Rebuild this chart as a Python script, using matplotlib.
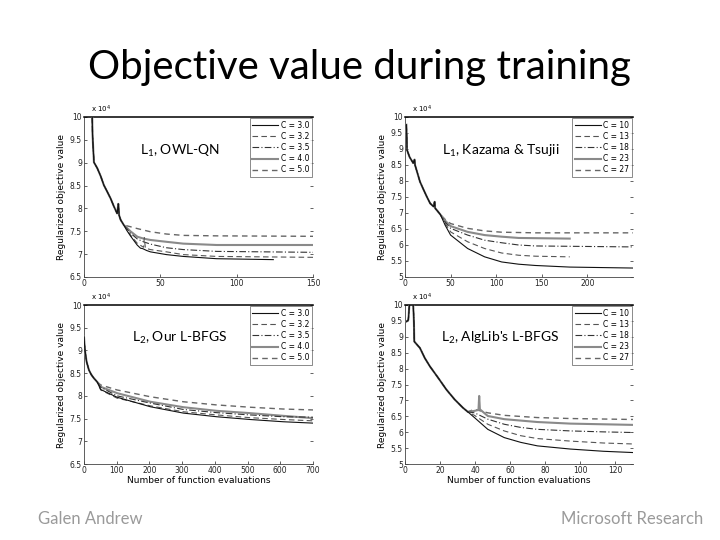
import matplotlib
matplotlib.use("Agg")
import matplotlib.pyplot as plt

plt.rcParams['mathtext.default'] = 'regular'

# ---- data (objective values in units of 1e4) ----
# top left: L1, OWL-QN
owl_c = ["C = 3.0", "C = 3.2", "C = 3.5", "C = 4.0", "C = 5.0"]
owl_head_x = [5.4, 5.6, 6.5, 8.7, 11, 13, 15, 17.4, 19.5, 21.7, 22.5, 23, 24, 26]
owl_head_y = [10.0, 9.6, 9.01, 8.88, 8.7, 8.51, 8.38, 8.22, 8.05, 7.89, 8.1, 7.85, 7.75, 7.64]
owl_x = [
    [28, 30.4, 34.8, 37, 38.5, 41, 43.5, 54, 65, 87, 124],
    [28, 30.4, 34.8, 39, 39.5, 40.2, 43.5, 54, 65, 87, 150],
    [28, 30.4, 35, 39, 43.5, 54, 65, 87, 150],
    [28, 30.4, 35, 39, 43.5, 54, 65, 87, 150],
    [28, 30.4, 34.8, 43.5, 54, 65, 87, 150],
]
owl_y = [
    [7.52, 7.40, 7.20, 7.13, 7.12, 7.08, 7.05, 6.99, 6.95, 6.90, 6.88],
    [7.54, 7.42, 7.24, 7.15, 7.36, 7.13, 7.10, 7.05, 6.99, 6.95, 6.93],
    [7.56, 7.46, 7.33, 7.27, 7.22, 7.14, 7.10, 7.06, 7.04],
    [7.58, 7.50, 7.38, 7.34, 7.31, 7.27, 7.23, 7.20, 7.20],
    [7.62, 7.60, 7.56, 7.49, 7.44, 7.41, 7.40, 7.39],
]

# top right: L1, Kazama & Tsujii
kt_c = ["C = 10", "C = 13", "C = 18", "C = 23", "C = 27"]
kt_head_x = [1.5, 2.0, 2.2, 5, 9, 10.5, 11, 16.4, 20, 23.9, 27.6, 31.3, 32.5, 33, 36, 38.8]
kt_head_y = [9.76, 9.3, 8.97, 8.75, 8.56, 8.67, 8.5, 7.98, 7.75, 7.51, 7.30, 7.20, 7.35, 7.15, 7.05, 6.95]
kt_x = [
    [44, 50, 68.7, 87.3, 106, 124.6, 143, 180.6, 250],
    [44, 50, 68.7, 87.3, 106, 124.6, 143, 180.6],
    [44, 50, 68.7, 87.3, 106, 124.6, 143, 250],
    [44, 50, 68.7, 87.3, 106, 124.6, 180.6],
    [44, 50, 68.7, 87.3, 106, 143, 250],
]
kt_y = [
    [6.62, 6.31, 5.89, 5.63, 5.47, 5.40, 5.36, 5.31, 5.28],
    [6.68, 6.41, 6.10, 5.89, 5.75, 5.68, 5.65, 5.63],
    [6.72, 6.52, 6.31, 6.15, 6.07, 6.00, 5.97, 5.94],
    [6.76, 6.59, 6.41, 6.31, 6.26, 6.22, 6.20],
    [6.80, 6.67, 6.52, 6.44, 6.40, 6.38, 6.38],
]

# bottom left: L2, our L-BFGS
our_c = ["C = 3.0", "C = 3.2", "C = 3.5", "C = 4.0", "C = 5.0"]
our_head_x = [0, 3, 8, 15, 22, 30, 40]
our_head_y = [9.3, 9.0, 8.75, 8.57, 8.47, 8.39, 8.31]
our_x = [51, 101, 203, 304, 406, 507, 609, 700]
our_y = [
    [8.14, 7.97, 7.76, 7.62, 7.54, 7.48, 7.43, 7.40],
    [8.13, 7.95, 7.78, 7.65, 7.58, 7.52, 7.48, 7.45],
    [8.19, 8.00, 7.84, 7.70, 7.63, 7.58, 7.54, 7.53],
    [8.20, 8.06, 7.87, 7.75, 7.67, 7.62, 7.56, 7.51],
    [8.24, 8.13, 7.98, 7.87, 7.80, 7.75, 7.71, 7.69],
]

# bottom right: L2, AlgLib's L-BFGS
alg_c = ["C = 10", "C = 13", "C = 18", "C = 23", "C = 27"]
alg_head_x = [0.9, 1.9, 2.5, 4.7, 5.1, 5.3, 8.5, 11.3, 14.2, 18.9, 23.6, 28.3, 33.0, 35.8]
alg_head_y = [9.48, 9.53, 10.0, 10.0, 9.43, 8.85, 8.65, 8.33, 8.07, 7.71, 7.34, 7.03, 6.77, 6.64]
alg_x = [
    [39.6, 47.2, 56.6, 66, 75.5, 94.3, 113.2, 130],
    [39.6, 47.2, 56.6, 66, 75.5, 94.3, 113.2, 130],
    [39.6, 47.2, 56.6, 66, 75.5, 94.3, 113.2, 130],
    [39.6, 41.9, 42.3, 42.7, 47.2, 56.6, 75.5, 94.3, 130],
    [39.6, 47.2, 56.6, 75.5, 94.3, 130],
]
alg_y = [
    [6.46, 6.09, 5.83, 5.68, 5.57, 5.47, 5.40, 5.36],
    [6.53, 6.25, 6.04, 5.89, 5.80, 5.72, 5.66, 5.63],
    [6.61, 6.41, 6.25, 6.15, 6.09, 6.04, 6.01, 5.99],
    [6.67, 6.70, 7.14, 6.72, 6.51, 6.41, 6.32, 6.27, 6.23],
    [6.72, 6.61, 6.53, 6.46, 6.43, 6.40],
]

# line styles for the five C values
styles = [
    dict(color="#111111", ls="-", lw=0.8),
    dict(color="#555555", ls=(0, (5, 3)), lw=0.8),
    dict(color="#333333", ls=(0, (6, 2, 1, 2)), lw=0.8),
    dict(color="#8a8a8a", ls="-", lw=1.5),
    dict(color="#666666", ls=(0, (4, 3)), lw=1.0),
]

fig = plt.figure(figsize=(7.2, 5.4), dpi=100)
W, H = 720.0, 540.0


def make_axes(left, right, top, bottom):
    return fig.add_axes([left / W, 1 - bottom / H, (right - left) / W, (bottom - top) / H])


panels = [
    (make_axes(84, 313, 117, 277), owl_c, owl_head_x, owl_head_y, owl_x, owl_y,
     (0, 150), [0, 50, 100, 150], (6.5, 10), r"L$_1$, OWL-QN", False),
    (make_axes(405, 633, 117, 277), kt_c, kt_head_x, kt_head_y, kt_x, kt_y,
     (0, 250), [0, 50, 100, 150, 200], (5, 10), r"L$_1$, Kazama & Tsujii", False),
    (make_axes(84, 313, 305, 464), our_c, our_head_x, our_head_y, [our_x] * 5, our_y,
     (0, 700), [0, 100, 200, 300, 400, 500, 600, 700], (6.5, 10), r"L$_2$, Our L-BFGS", True),
    (make_axes(405, 633, 305, 464), alg_c, alg_head_x, alg_head_y, alg_x, alg_y,
     (0, 130), [0, 20, 40, 60, 80, 100, 120], (5, 10), r"L$_2$, AlgLib's L-BFGS", True),
]

for ax, cs, hx, hy, xs, ys, xl, xt, yl, label, bottom_row in panels:
    # draw in reverse so the thin dark C curve ends up on top of the shared descent
    for i in range(4, -1, -1):
        ax.plot(hx + xs[i], hy + ys[i], label=cs[i], zorder=3 + (4 - i), **styles[i])
    ax.set_xlim(*xl)
    ax.set_ylim(*yl)
    ax.set_xticks(xt)
    yt = [yl[0] + 0.5 * k for k in range(int((yl[1] - yl[0]) / 0.5) + 1)]
    ax.set_yticks(yt)
    ax.set_yticklabels(["%g" % v for v in yt])
    ax.tick_params(direction="in", length=2.5, width=0.5, labelsize=5.5, pad=1.5,
                   right=True, colors="#222222")
    for s in ["left", "bottom"]:
        ax.spines[s].set_linewidth(0.6)
        ax.spines[s].set_color("#444444")
    ax.spines["top"].set_linewidth(1.1)
    ax.spines["right"].set_visible(False)
    ax.text(0.03, 1.01, r"x 10$^4$", transform=ax.transAxes, fontsize=5, va="bottom", ha="left")
    ax.set_ylabel("Regularized objective value", fontsize=6.5, labelpad=3)
    if bottom_row:
        ax.set_xlabel("Number of function evaluations", fontsize=6.5, labelpad=1)
    ax.text(0.42, 0.79, label, transform=ax.transAxes, ha="center", va="center",
            fontsize=10, family="Lato")
    handles, labels = ax.get_legend_handles_labels()
    leg = ax.legend(handles[::-1], labels[::-1], loc="upper right", fontsize=5.5,
                    frameon=True, fancybox=False, handlelength=3.4, handletextpad=0.3,
                    borderpad=0.35, labelspacing=0.28, borderaxespad=0.15)
    leg.set_zorder(10)
    leg.get_frame().set_edgecolor("#333333")
    leg.get_frame().set_linewidth(0.5)

fig.text(0.5, 1 - 68 / H, "Objective value during training", ha="center", va="center",
         fontsize=29, family="Lato")
fig.text(38 / W, 1 - 519 / H, "Galen Andrew", ha="left", va="center",
         fontsize=12, family="Lato", color="#9a9a9a")
fig.text(703 / W, 1 - 519 / H, "Microsoft Research", ha="right", va="center",
         fontsize=12, family="Lato", color="#9a9a9a")

fig.savefig("out.png", dpi=100)
